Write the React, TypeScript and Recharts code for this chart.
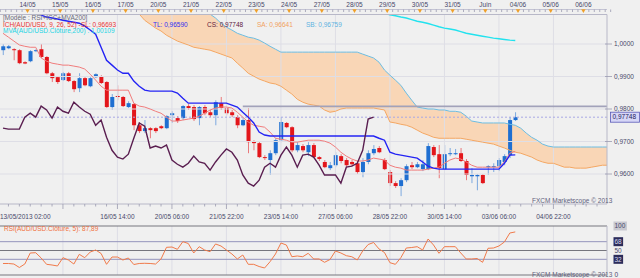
import React from "react";
import { ComposedChart, Bar, Line, Area, XAxis, YAxis, ReferenceLine } from "recharts";

// AUD/USD, 4h candles from 13/05/2013 02:00 (index 0) to 03/06/2013 (index 94)
const OPEN = [
  0.9981, 0.9987, 0.9984, 0.9981, 0.9944, 0.9947, 0.9978, 0.9984, 0.996, 0.991,
  0.9898, 0.9889, 0.991, 0.9886, 0.9864, 0.9895, 0.987, 0.9898, 0.9901, 0.9883,
  0.9806, 0.984, 0.9837, 0.9806, 0.9815, 0.975, 0.9732, 0.9741, 0.9741, 0.9747,
  0.9741, 0.9781, 0.9772, 0.9772, 0.9809, 0.9806, 0.9772, 0.9806, 0.979, 0.9781,
  0.9818, 0.9803, 0.979, 0.9775, 0.975, 0.9766, 0.9701, 0.9695, 0.9652, 0.9643,
  0.9664, 0.9704, 0.9757, 0.9744, 0.9673, 0.9686, 0.9667, 0.9689, 0.9652, 0.9637,
  0.9618, 0.9627, 0.9655, 0.9643, 0.9637, 0.9633, 0.9606, 0.9637, 0.9664, 0.968,
  0.9643, 0.9606, 0.9572, 0.9563, 0.9581, 0.9627, 0.9621, 0.9615, 0.9615, 0.9683,
  0.9661, 0.9615, 0.9661, 0.9661, 0.9664, 0.964, 0.9593, 0.9593, 0.9597, 0.9621,
  0.9621, 0.9624, 0.9637, 0.9658, 0.9766,
];
const HIGH = [
  1.0, 0.9997, 0.9987, 0.9984, 0.9947, 0.9981, 0.9984, 1.0, 0.9963, 0.9914,
  0.9901, 0.9914, 0.9914, 0.9889, 0.991, 0.9898, 0.9898, 0.991, 0.9904, 0.9886,
  0.9846, 0.9873, 0.984, 0.9824, 0.9818, 0.976, 0.9766, 0.9744, 0.9744, 0.975,
  0.9781, 0.9793, 0.9778, 0.9812, 0.9815, 0.9812, 0.9809, 0.9812, 0.9797, 0.9827,
  0.9837, 0.9806, 0.9797, 0.9781, 0.9772, 0.9803, 0.9704, 0.9701, 0.9658, 0.9673,
  0.971, 0.9775, 0.976, 0.9747, 0.9698, 0.9692, 0.9698, 0.9695, 0.9655, 0.9643,
  0.9637, 0.9667, 0.9661, 0.9649, 0.9643, 0.964, 0.9649, 0.9673, 0.9689, 0.9686,
  0.9649, 0.9612, 0.9578, 0.9587, 0.963, 0.9637, 0.9637, 0.9643, 0.9695, 0.9689,
  0.9689, 0.9689, 0.968, 0.9677, 0.968, 0.9646, 0.9618, 0.96, 0.96, 0.9627,
  0.9633, 0.9649, 0.9661, 0.9775, 0.979,
];
const LOW = [
  0.9966, 0.9984, 0.995, 0.9938, 0.9938, 0.9944, 0.9975, 0.9957, 0.9907, 0.9883,
  0.9877, 0.9886, 0.9883, 0.9852, 0.9852, 0.987, 0.9867, 0.9895, 0.9877, 0.9803,
  0.9797, 0.9827, 0.9806, 0.9803, 0.9735, 0.9726, 0.9726, 0.971, 0.9726, 0.9738,
  0.9738, 0.9757, 0.9757, 0.9766, 0.9797, 0.9763, 0.975, 0.9781, 0.9775, 0.975,
  0.9797, 0.9781, 0.9775, 0.9741, 0.9747, 0.9664, 0.9673, 0.9649, 0.9643, 0.9597,
  0.9658, 0.9698, 0.9741, 0.9667, 0.9667, 0.9667, 0.9655, 0.9649, 0.964, 0.9618,
  0.9612, 0.9621, 0.9633, 0.9621, 0.9624, 0.96, 0.959, 0.963, 0.9658, 0.9664,
  0.9612, 0.9563, 0.9557, 0.9532, 0.9575, 0.9615, 0.9618, 0.9609, 0.9612, 0.9652,
  0.9587, 0.9612, 0.9655, 0.9658, 0.9637, 0.9581, 0.9572, 0.955, 0.9569, 0.9597,
  0.9606, 0.9609, 0.9627, 0.9649, 0.9763,
];
const CLOSE = [
  0.9993, 0.9993, 0.9981, 0.9941, 0.994, 0.9978, 0.9981, 0.996, 0.991, 0.9895,
  0.9883, 0.991, 0.9886, 0.9861, 0.9895, 0.9873, 0.9895, 0.9907, 0.988, 0.9806,
  0.9837, 0.9837, 0.9809, 0.9818, 0.975, 0.9732, 0.9741, 0.9735, 0.9732, 0.9741,
  0.9778, 0.9787, 0.9763, 0.9809, 0.9803, 0.9769, 0.9806, 0.9787, 0.9781, 0.9821,
  0.9803, 0.9787, 0.9781, 0.975, 0.9766, 0.9698, 0.9695, 0.9652, 0.9649, 0.9664,
  0.9704, 0.976, 0.9744, 0.9673, 0.9689, 0.9673, 0.9689, 0.9652, 0.9646, 0.9621,
  0.9627, 0.9658, 0.964, 0.9627, 0.963, 0.9606, 0.9637, 0.9664, 0.9677, 0.9667,
  0.9615, 0.9572, 0.9563, 0.9581, 0.9624, 0.9621, 0.963, 0.963, 0.9686, 0.9658,
  0.9618, 0.9661, 0.9664, 0.9664, 0.964, 0.9597, 0.9597, 0.9597, 0.9572, 0.9624,
  0.9624, 0.9643, 0.9655, 0.9766, 0.97748,
];

// Ichimoku lines (SL = tenkan, TL = kijun, CS = chikou, SA/SB = senkou spans)
const TENKAN = [
  1.0033, 1.0021, 1.0009, 0.9997, 0.9993, 0.999, 0.999, 0.9957, 0.9947, 0.9941,
  0.9938, 0.9935, 0.9935, 0.9932, 0.9929, 0.9923, 0.9907, 0.9889, 0.987, 0.9858,
  0.9858, 0.9858, 0.9858, 0.9858, 0.9818, 0.9809, 0.9806, 0.98, 0.9793, 0.9787,
  0.9775, 0.9763, 0.9763, 0.9766, 0.9769, 0.9772, 0.9778, 0.9787, 0.9797, 0.9803,
  0.9806, 0.9806, 0.9803, 0.979, 0.9775, 0.976, 0.975, 0.9747, 0.9744, 0.9729,
  0.971, 0.9707, 0.9704, 0.9698, 0.9698, 0.9701, 0.9704, 0.9704, 0.9704, 0.9701,
  0.9695, 0.9683, 0.9667, 0.9655, 0.9646, 0.964, 0.964, 0.9643, 0.9649, 0.9646,
  0.9643, 0.9627, 0.9621, 0.9618, 0.9612, 0.9612, 0.9612, 0.9612, 0.9615, 0.9618,
  0.9621, 0.9633, 0.9643, 0.9649, 0.9646, 0.9637, 0.9627, 0.9621, 0.9621, 0.9621,
  0.9621, 0.9621, 0.9637, 0.9664, 0.96693,
];
const KIJUN_START = 5;
const KIJUN = [
  1.012, 1.0104, 1.0089, 1.0083, 1.008, 1.0077, 1.0073, 1.007, 1.0067, 1.0064,
  1.0055, 1.0043, 1.003, 0.999, 0.995, 0.9935, 0.992, 0.991, 0.991, 0.9886,
  0.987, 0.9858, 0.9855, 0.9855, 0.9855, 0.9855, 0.9855, 0.9849, 0.9833, 0.9818,
  0.9818, 0.9818, 0.9818, 0.9818, 0.9818, 0.9818, 0.9818, 0.9812, 0.9806, 0.979,
  0.9775, 0.9757, 0.9729, 0.972, 0.9717, 0.9717, 0.9717, 0.9717, 0.9717, 0.9717,
  0.9717, 0.9717, 0.9717, 0.9717, 0.9717, 0.9717, 0.9717, 0.9717, 0.9717, 0.9717,
  0.9717, 0.9717, 0.9717, 0.9717, 0.971, 0.9704, 0.9667, 0.9661, 0.9658, 0.9655,
  0.9652, 0.9649, 0.9637, 0.9624, 0.9618, 0.9615, 0.9615, 0.9615, 0.9615, 0.9615,
  0.9615, 0.9615, 0.9615, 0.9615, 0.9615, 0.9615, 0.9615, 0.9633, 0.9658, 0.9659,
];
const CHIKOU = [
  0.9741, 0.9738, 0.9738, 0.9738, 0.9775, 0.9787, 0.9775, 0.9809, 0.9797, 0.9772,
  0.9806, 0.9793, 0.9787, 0.9821, 0.9806, 0.9793, 0.9784, 0.975, 0.9766, 0.9713,
  0.9673, 0.9652, 0.9646, 0.9661, 0.971, 0.9757, 0.9747, 0.968, 0.9686, 0.968,
  0.9689, 0.9643, 0.963, 0.9621, 0.9633, 0.9655, 0.9637, 0.9633, 0.9612, 0.9637,
  0.9658, 0.9677, 0.9667, 0.9643, 0.9597, 0.9572, 0.9563, 0.9581, 0.9621, 0.9633,
  0.9621, 0.9658, 0.9683, 0.9658, 0.9621, 0.9658, 0.9661, 0.9652, 0.9627, 0.9597,
  0.9597, 0.9597, 0.9572, 0.9621, 0.9624, 0.9633, 0.9673, 0.9769, 0.97748,
];
const SENKOU_START = 22;
const SENKOU_A = [
  1.0135, 1.012, 1.0104, 1.0092, 1.0073, 1.0061, 1.0049, 1.004, 1.0027, 1.0018,
  1.0009, 1.0003, 0.9997, 0.999, 0.9987, 0.9984, 0.9981, 0.9975, 0.9969, 0.9963,
  0.9957, 0.9941, 0.9926, 0.991, 0.9901, 0.9892, 0.9886, 0.988, 0.9877, 0.987,
  0.9858, 0.9846, 0.983, 0.9821, 0.9815, 0.9812, 0.9809, 0.9797, 0.979, 0.9793,
  0.98, 0.9803, 0.9803, 0.9803, 0.9803, 0.9803, 0.9803, 0.98, 0.9797, 0.976,
  0.9757, 0.9753, 0.975, 0.9744, 0.9735, 0.9726, 0.972, 0.9713, 0.971, 0.971,
  0.971, 0.971, 0.971, 0.9707, 0.9704, 0.9701, 0.9698, 0.9695, 0.9692, 0.9686,
  0.968, 0.9673, 0.9667, 0.9664, 0.9658, 0.9652, 0.9643, 0.9637, 0.9633, 0.9633,
  0.9627, 0.9621, 0.9621, 0.9618, 0.9618, 0.9618, 0.9621, 0.9624, 0.9627, 0.9627,
];
const SENKOU_B = [
  1.015, 1.015, 1.015, 1.015, 1.015, 1.015, 1.015, 1.015, 1.015, 1.015,
  1.015, 1.015, 1.015, 1.015, 1.012, 1.0104, 1.0092, 1.008, 1.0064, 1.0052,
  1.0043, 1.0033, 1.0027, 1.0021, 1.0018, 1.0012, 1.0003, 0.9993, 0.9984, 0.9975,
  0.9975, 0.9975, 0.9975, 0.9975, 0.9975, 0.9975, 0.9975, 0.9975, 0.9975, 0.9975,
  0.9975, 0.9975, 0.9975, 0.9975, 0.9969, 0.9963, 0.9957, 0.9944, 0.992, 0.9904,
  0.9889, 0.9873, 0.9849, 0.9827, 0.9806, 0.9803, 0.98, 0.98, 0.9797, 0.9797,
  0.9793, 0.9793, 0.979, 0.9778, 0.9763, 0.976, 0.9757, 0.9757, 0.9757, 0.9757,
  0.9757, 0.9753, 0.975, 0.9741, 0.9726, 0.9713, 0.9704, 0.9692, 0.9686, 0.9683,
  0.9683, 0.9683, 0.9683, 0.9683, 0.9683, 0.9683, 0.9683, 0.9683, 0.9683, 0.9683,
];
const MVA_START = 70;
const MVA200 = [
  1.0095, 1.009, 1.0087, 1.0083, 1.008, 1.0075, 1.007, 1.0067, 1.0063, 1.0058,
  1.0053, 1.0049, 1.0046, 1.0043, 1.0038, 1.0033, 1.003, 1.0027, 1.0024, 1.0021,
  1.0018, 1.0016, 1.0014, 1.0012, 1.0011,
];
const RSI = [
  23.5, 23.5, 22.4, 15.3, 22.4, 44.9, 45.5, 34.7, 21.8, 20.4,
  18.4, 35.3, 30.6, 22.4, 42.2, 35.3, 46.9, 51, 43.9, 21.8,
  36.7, 36.7, 30.6, 34.7, 21.4, 23.5, 23.9, 23.5, 22.4, 32.7,
  56.5, 57.1, 52.4, 68, 64.3, 44.9, 57.8, 51, 47.6, 63.3,
  59.2, 51, 42.9, 32.7, 40.8, 21.8, 21.8, 17.3, 14.3, 27.1,
  42.9, 65.3, 61.2, 37.3, 38.8, 37.3, 44.3, 32.7, 32.7, 25.9,
  31.6, 49, 44.9, 39.4, 37.3, 30.6, 49, 62.2, 66.3, 53.1,
  45.9, 25.1, 21.8, 35.3, 55.1, 56.1, 57.8, 51, 73.5, 61.2,
  44.3, 57.8, 57.8, 57.8, 44.9, 32.7, 32.7, 33.7, 25.9, 54.5,
  55.1, 59.2, 67.3, 85.7, 87.89,
];

const LEVEL = 0.9808; // drawn horizontal level
const LEVEL_FROM = 44;
const LAST_CLOSE = 0.97748;
const LAST_INDEX = 111; // cloud runs 26 bars past the last candle

const DAY_TICKS = [4.5, 10.5, 16.5, 22.5, 28.5, 34.5, 40.5, 46.5, 52.5, 58.5, 64.5, 70.5, 76.5, 82.5, 88.5, 94.5, 100.5, 106.5];
const DAY_LABELS = ["14/05", "15/05", "16/05", "17/05", "20/05", "21/05", "22/05", "23/05", "24/05", "27/05", "28/05", "29/05", "30/05", "31/05", "Juin", "04/06", "05/06", "06/06"];
const GRID_X = [11, 21, 31, 41, 51, 61, 71, 81, 91, 101];
const BOTTOM_LABEL_AT = [0, 21, 31, 41, 51, 61, 71, 81, 91, 101];
const BOTTOM_LABELS = ["13/05/2013 02:00", "16/05 14:00", "20/05 06:00", "21/05 22:00", "23/05 14:00", "27/05 06:00", "28/05 22:00", "30/05 14:00", "03/06 06:00", "04/06 22:00"];
const PRICE_MAJOR = [0.96, 0.97, 0.98, 0.99, 1.0];
const RSI_LEVELS = [0, 32, 50, 68, 100];

const X_DOMAIN: [number, number] = [-0.55, 110.83];
const P_DOMAIN: [number, number] = [0.95077, 1.00908];

const BG = "#f0f0f0";
const FRAME = "#b8b8c8";
const GRID = "#dedee6";
const TICK = "#9a9ab0";
const AXIS_TXT = "#48486a";
const UP = "#1f6fd1";
const DOWN = "#e3161b";
const FONT = "Liberation Sans, Arial, sans-serif";

const TOP_TICKS = Array.from({ length: 113 }, (_, j) => j - 0.5);
const BOTTOM_TICKS = [0, ...Array.from({ length: 55 }, (_, j) => 2 * j + 1)];

const rows = Array.from({ length: LAST_INDEX + 1 }, (_, i) => {
  const r: Record<string, any> = { i };
  if (i < OPEN.length) {
    r.open = OPEN[i];
    r.high = HIGH[i];
    r.low = LOW[i];
    r.close = CLOSE[i];
    r.hl = [LOW[i], HIGH[i]];
    r.tenkan = TENKAN[i];
    r.rsi = RSI[i];
  }
  const k = i - KIJUN_START;
  if (k >= 0 && k < KIJUN.length) r.kijun = KIJUN[k];
  if (i < CHIKOU.length) r.chikou = CHIKOU[i];
  const s = i - SENKOU_START;
  if (s >= 0 && s < SENKOU_A.length) {
    r.sa = SENKOU_A[s];
    r.sb = SENKOU_B[s];
    r.cloud = [SENKOU_A[s], SENKOU_B[s]];
  }
  const m = i - MVA_START;
  if (m >= 0 && m < MVA200.length) r.mva = MVA200[m];
  if (i >= LEVEL_FROM) r.level = LEVEL;
  return r;
});

const fmt = (v: number, d: number) => v.toFixed(d).replace(".", ",");

function Candle(props: any) {
  const { x, y, width, height, payload } = props;
  if (!payload || payload.open == null) return null;
  const top = Math.min(y, y + height);
  const h = Math.abs(height);
  const span = payload.high - payload.low || 1e-9;
  const py = (v: number) => top + ((payload.high - v) / span) * h;
  const up = payload.close >= payload.open;
  const b1 = py(Math.max(payload.open, payload.close));
  const b2 = py(Math.min(payload.open, payload.close));
  const cx = x + width / 2;
  const color = up ? UP : DOWN;
  return (
    <g>
      <line x1={cx} x2={cx} y1={top} y2={top + h} stroke={color} strokeOpacity={0.55} strokeWidth={1} />
      <rect x={x} y={b1} width={width} height={Math.max(1, b2 - b1)} fill={color} />
    </g>
  );
}

function TopTick(props: any) {
  const { x, y, payload } = props;
  const k = DAY_TICKS.indexOf(payload.value);
  return (
    <g>
      <line x1={x} x2={x} y1={y - 5} y2={y - 2.5} stroke={TICK} strokeWidth={0.8} />
      {k >= 0 && (
        <g>
          <path d={`M${x - 2.2},${y - 5.2} L${x + 2.2},${y - 5.2} L${x},${y - 1.4} Z`} fill="#f0a028" />
          <text x={x} y={y - 7.4} textAnchor="middle" fontSize={6.5} fontFamily={FONT} fill={AXIS_TXT}>
            {DAY_LABELS[k]}
          </text>
        </g>
      )}
    </g>
  );
}

function BottomTick(props: any) {
  const { x, y, payload } = props;
  const v = payload.value;
  const li = BOTTOM_LABEL_AT.indexOf(v);
  const major = GRID_X.includes(v);
  return (
    <g>
      {v > 0 && <line x1={x} x2={x} y1={y} y2={y + (major ? 5 : 2.5)} stroke={TICK} strokeWidth={0.8} />}
      {li >= 0 && (
        <text x={li === 0 ? 0 : x} y={y + 15} textAnchor={li === 0 ? "start" : "middle"} fontSize={6.5} fontFamily={FONT} fill={AXIS_TXT}>
          {BOTTOM_LABELS[li]}
        </text>
      )}
    </g>
  );
}

function PriceTick(props: any) {
  const { x, y, payload } = props;
  const v = payload.value;
  if (v === LAST_CLOSE) {
    return (
      <g>
        <rect x={x + 3.5} y={y - 5} width={29} height={10} fill="#d6d6f6" stroke="#5a5ab8" strokeWidth={0.8} />
        <text x={x + 5.5} y={y + 2.3} fontSize={6.5} fontFamily={FONT} fill="#1c1c5c">
          {fmt(v, 5)}
        </text>
      </g>
    );
  }
  return (
    <g>
      <line x1={x - 2} x2={x + 5} y1={y} y2={y} stroke={TICK} strokeWidth={0.8} />
      <text x={x + 7} y={y + 2.3} fontSize={6.5} fontFamily={FONT} fill={AXIS_TXT}>
        {fmt(v, 4)}
      </text>
    </g>
  );
}

function RsiTick(props: any) {
  const { x, y, payload } = props;
  const v = payload.value;
  const dark = v === 32 || v === 68;
  const grey = v === 100;
  const label = String(v);
  return (
    <g>
      {(dark || grey) && (
        <rect x={x + 6.5} y={y - 4.5} width={label.length * 3.8 + 2} height={9} fill={dark ? "#2c2c5a" : "#c8c8d0"} />
      )}
      <text x={x + 7.5} y={y + 2.3} fontSize={6.5} fontFamily={FONT} fill={dark ? "#d8d8f0" : AXIS_TXT}>
        {label}
      </text>
    </g>
  );
}

function Txt({ x, y, color, children }: { x: number; y: number; color: string; children: React.ReactNode }) {
  return (
    <div
      style={{
        position: "absolute",
        left: x,
        top: y - 4,
        fontSize: 6.5,
        lineHeight: "8px",
        color,
        whiteSpace: "nowrap",
        fontFamily: FONT,
      }}
    >
      {children}
    </div>
  );
}

const line = (key: string, color: string, width: number, xId = "b") => (
  <Line
    xAxisId={xId}
    yAxisId="p"
    dataKey={key}
    type="linear"
    stroke={color}
    strokeWidth={width}
    dot={false}
    activeDot={false}
    isAnimationActive={false}
  />
);

export default function App() {
  return (
    <div style={{ position: "fixed", left: 0, top: 0, width: 640, height: 278, background: BG, overflow: "hidden" }}>
      <div style={{ position: "absolute", left: 0, top: 9, width: 607, height: 1, background: "#c4c4d4" }} />
      <div style={{ position: "absolute", left: 0, top: 0 }}>
        <ComposedChart width={640} height={220} data={rows} margin={{ top: 0, right: 0, bottom: 0, left: 0 }}>
          <XAxis
            xAxisId="t"
            orientation="top"
            dataKey="i"
            type="number"
            domain={X_DOMAIN}
            allowDataOverflow
            ticks={TOP_TICKS}
            interval={0}
            tick={(p: any) => <TopTick {...p} />}
            tickLine={false}
            tickSize={0}
            tickMargin={0}
            axisLine={{ stroke: FRAME }}
            height={14.5}
          />
          <XAxis
            xAxisId="b"
            dataKey="i"
            type="number"
            domain={X_DOMAIN}
            allowDataOverflow
            ticks={BOTTOM_TICKS}
            interval={0}
            tick={(p: any) => <BottomTick {...p} />}
            tickLine={false}
            tickSize={0}
            tickMargin={0}
            axisLine={{ stroke: FRAME }}
            height={16}
          />
          <YAxis
            yAxisId="p"
            orientation="right"
            width={33}
            type="number"
            domain={P_DOMAIN}
            allowDataOverflow
            ticks={[...PRICE_MAJOR, LAST_CLOSE]}
            interval={0}
            tick={(p: any) => <PriceTick {...p} />}
            tickLine={false}
            tickSize={0}
            tickMargin={0}
            axisLine={{ stroke: FRAME }}
          />
          {GRID_X.map((g) => (
            <ReferenceLine key={"gx" + g} xAxisId="b" yAxisId="p" x={g} stroke={GRID} />
          ))}
          {PRICE_MAJOR.map((p) => (
            <ReferenceLine key={"gy" + p} xAxisId="b" yAxisId="p" y={p} stroke={GRID} />
          ))}
          <Area
            xAxisId="b"
            yAxisId="p"
            dataKey="cloud"
            type="linear"
            fill="#f9d6b6"
            fillOpacity={1}
            stroke="none"
            dot={false}
            activeDot={false}
            isAnimationActive={false}
          />
          {line("sa", "#f4a763", 1)}
          {line("sb", "#6cbde2", 1)}
          {line("level", "#a2a2ba", 1.6)}
          <ReferenceLine xAxisId="b" yAxisId="p" y={LAST_CLOSE} stroke="#a8a8e4" strokeDasharray="2 2" />
          {line("tenkan", "#f07c7c", 1)}
          {line("kijun", "#2424f4", 1.4)}
          {line("chikou", "#5a1e50", 1.4)}
          {line("mva", "#22e2ee", 1.4, "t")}
          <Bar
            xAxisId="b"
            yAxisId="p"
            dataKey="hl"
            barSize={4}
            shape={(p: any) => <Candle {...p} />}
            isAnimationActive={false}
          />
        </ComposedChart>
      </div>
      <div style={{ position: "absolute", left: 0, top: 220 }}>
        <ComposedChart width={640} height={58} data={rows} margin={{ top: 6, right: 0, bottom: 3, left: 0 }}>
          <XAxis dataKey="i" type="number" domain={X_DOMAIN} allowDataOverflow hide />
          <YAxis
            orientation="right"
            width={33}
            type="number"
            domain={[0, 100]}
            ticks={RSI_LEVELS}
            interval={0}
            tick={(p: any) => <RsiTick {...p} />}
            tickLine={false}
            tickSize={0}
            tickMargin={0}
            axisLine={{ stroke: FRAME }}
          />
          {GRID_X.map((g) => (
            <ReferenceLine key={"rx" + g} x={g} stroke={GRID} />
          ))}
          {RSI_LEVELS.map((l) => (
            <ReferenceLine key={"rl" + l} y={l} stroke={l === 32 || l === 68 ? "#9494bc" : "#76767e"} strokeWidth={1} />
          ))}
          <Line dataKey="rsi" type="linear" stroke="#f07a4a" strokeWidth={1} dot={false} activeDot={false} isAnimationActive={false} />
        </ComposedChart>
      </div>

      <Txt x={3} y={17.5} color="#6a6a78">[Modèle : RSI+ICC+MVA200]</Txt>
      <Txt x={3} y={24.5} color="#e83434">ICH(AUD/USD, 9, 26, 52) -</Txt>
      <Txt x={81} y={24.5} color="#e83434">SL: 0,96693</Txt>
      <Txt x={153} y={24.5} color="#3030f0">TL: 0,96590</Txt>
      <Txt x={207} y={24.5} color="#602040">CS: 0,97748</Txt>
      <Txt x={257} y={24.5} color="#f0a060">SA: 0,96641</Txt>
      <Txt x={306} y={24.5} color="#5eb2e0">SB: 0,96759</Txt>
      <Txt x={3} y={31} color="#22d4e4">MVA(AUD/USD.Clôture,200) : 1,00109</Txt>
      <Txt x={4} y={228.5} color="#f07040">RSI(AUD/USD.Clôture, 5): 87,89</Txt>
      <Txt x={532} y={200.5} color="#62627e">FXCM Marketscope © 2013</Txt>
      <Txt x={532} y={274.5} color="#62627e">FXCM Marketscope © 2013</Txt>
    </div>
  );
}
